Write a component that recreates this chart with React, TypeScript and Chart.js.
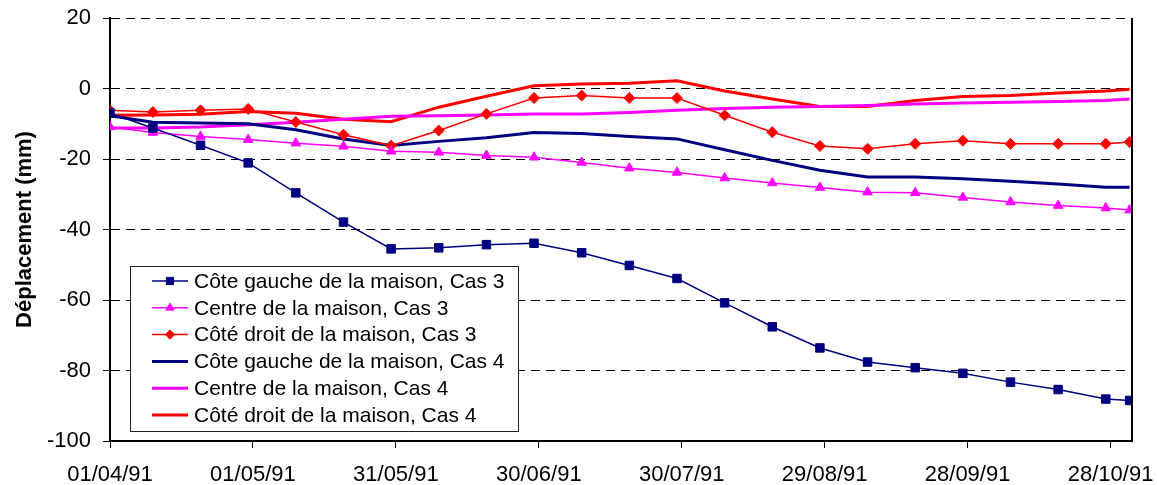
import React, { useEffect, useRef } from "react";
import { Chart, registerables } from "chart.js";

Chart.register(...registerables);

// ---- data ----
const dates = [
  "01/04/91", "10/04/91", "20/04/91", "30/04/91", "10/05/91", "20/05/91",
  "30/05/91", "09/06/91", "19/06/91", "29/06/91", "09/07/91", "19/07/91",
  "29/07/91", "08/08/91", "18/08/91", "28/08/91", "07/09/91", "17/09/91",
  "27/09/91", "07/10/91", "17/10/91", "27/10/91", "01/11/91",
];

const gaucheCas3 = [-7.0, -11.2, -16.1, -21.1, -29.6, -37.9, -45.5, -45.2, -44.3, -43.9, -46.6, -50.2, -53.9, -60.8, -67.6, -73.6, -77.6, -79.2, -80.8, -83.3, -85.4, -88.1, -88.5];
const centreCas3 = [-10.9, -12.5, -13.6, -14.5, -15.5, -16.4, -17.8, -18.1, -19.0, -19.5, -21.0, -22.6, -23.8, -25.4, -26.8, -28.1, -29.4, -29.6, -30.9, -32.2, -33.2, -33.9, -34.5];
const droitCas3 = [-6.2, -6.7, -6.2, -5.8, -9.5, -13.1, -16.2, -11.9, -7.2, -2.7, -2.0, -2.7, -2.7, -7.6, -12.4, -16.3, -17.1, -15.7, -14.8, -15.7, -15.7, -15.7, -15.2];
const gaucheCas4 = [-7.7, -9.6, -9.8, -10.0, -11.7, -14.3, -16.2, -15.0, -14.0, -12.5, -12.8, -13.6, -14.3, -17.4, -20.4, -23.2, -25.1, -25.1, -25.6, -26.3, -27.1, -28.0, -28.0];
const centreCas4 = [-11.2, -11.2, -10.9, -10.3, -9.6, -8.7, -7.9, -7.7, -7.5, -7.2, -7.2, -6.8, -6.2, -5.7, -5.3, -5.1, -4.8, -4.4, -4.1, -3.9, -3.7, -3.4, -3.0];
const droitCas4 = [-7.6, -7.5, -7.3, -6.5, -7.0, -8.7, -9.4, -5.3, -2.2, 0.8, 1.3, 1.5, 2.2, -0.7, -3.0, -5.1, -5.1, -3.4, -2.3, -2.0, -1.3, -0.7, -0.2];

const seriesLabels = [
  "Côte gauche de la maison, Cas 3",
  "Centre de la maison, Cas 3",
  "Côté droit de la maison, Cas 3",
  "Côte gauche de la maison, Cas 4",
  "Centre de la maison, Cas 4",
  "Côté droit de la maison, Cas 4",
];

const tickLabels = ["01/04/91", "01/05/91", "31/05/91", "30/06/91", "30/07/91", "29/08/91", "28/09/91", "28/10/91"];
const yTicks = [-100, -80, -60, -40, -20, 0, 20];
const yTitle = "Déplacement (mm)";

// ---- helpers ----
const toDay = (s: string) => {
  const [d, m, y] = s.split("/").map(Number);
  const t = Date.UTC(1900 + y, m - 1, d);
  const t0 = Date.UTC(1991, 3, 1);
  return Math.round((t - t0) / 86400000);
};
const xDays = dates.map(toDay);
const tickDays = tickLabels.map(toDay);

const FONT = "'Liberation Sans', Arial, sans-serif";
const NAVY = "#000080";
const MAGENTA = "#FF00FF";
const RED = "#FF0000";

const pts = (vals: number[]) => vals.map((v, i) => ({ x: xDays[i], y: v }));

function drawMarker(ctx: CanvasRenderingContext2D, style: string, x: number, y: number, r: number, color: string) {
  ctx.save();
  ctx.fillStyle = color;
  ctx.strokeStyle = color;
  ctx.lineWidth = 1;
  ctx.beginPath();
  if (style === "rect") {
    const s = Math.SQRT1_2 * r;
    ctx.rect(x - s, y - s, 2 * s, 2 * s);
  } else if (style === "triangle") {
    ctx.moveTo(x, y - r);
    ctx.lineTo(x + r * Math.sin(Math.PI / 3), y + r / 2);
    ctx.lineTo(x - r * Math.sin(Math.PI / 3), y + r / 2);
    ctx.closePath();
  } else if (style === "rectRot") {
    ctx.moveTo(x - r, y);
    ctx.lineTo(x, y - r);
    ctx.lineTo(x + r, y);
    ctx.lineTo(x, y + r);
    ctx.closePath();
  }
  ctx.fill();
  ctx.stroke();
  ctx.restore();
}

const frameLegendPlugin = {
  id: "frameLegend",
  afterDraw(chart: any) {
    const { ctx, chartArea } = chart;
    // right border of plot area
    ctx.save();
    ctx.strokeStyle = "#000";
    ctx.lineWidth = 2;
    ctx.beginPath();
    ctx.moveTo(chartArea.right, chartArea.top);
    ctx.lineTo(chartArea.right, chartArea.bottom);
    ctx.stroke();
    ctx.restore();

    // legend box
    const bx = chartArea.left + 20;
    const bw = 388;
    const bh = 165;
    const by = chartArea.bottom - 10 - bh;
    ctx.save();
    ctx.fillStyle = "#fff";
    ctx.fillRect(bx, by, bw, bh);
    ctx.strokeStyle = "#222";
    ctx.lineWidth = 1;
    ctx.strokeRect(bx + 0.5, by + 0.5, bw, bh);
    const rowH = 26.8;
    chart.data.datasets.forEach((ds: any, i: number) => {
      const cy = by + 15 + i * rowH;
      ctx.save();
      ctx.strokeStyle = ds.borderColor;
      ctx.lineWidth = ds.borderWidth;
      ctx.beginPath();
      ctx.moveTo(bx + 22, cy);
      ctx.lineTo(bx + 58, cy);
      ctx.stroke();
      ctx.restore();
      if (ds.pointRadius > 0) {
        drawMarker(ctx, ds.pointStyle, bx + 40, cy, ds.pointRadius * 0.85, ds.borderColor);
      }
      ctx.fillStyle = "#000";
      ctx.font = `21px ${FONT}`;
      ctx.textBaseline = "middle";
      ctx.textAlign = "left";
      ctx.fillText(ds.label, bx + 64, cy + 1);
    });
    ctx.restore();
  },
};

export default function App() {
  const canvasRef = useRef<HTMLCanvasElement | null>(null);

  useEffect(() => {
    const canvas = canvasRef.current;
    if (!canvas) return;
    const chart = new Chart(canvas, {
      type: "line",
      data: {
        datasets: [
          { label: seriesLabels[0], data: pts(gaucheCas3), borderColor: NAVY, backgroundColor: NAVY, borderWidth: 1.5, pointStyle: "rect", pointRadius: 6, pointBorderWidth: 1 },
          { label: seriesLabels[1], data: pts(centreCas3), borderColor: MAGENTA, backgroundColor: MAGENTA, borderWidth: 1.5, pointStyle: "triangle", pointRadius: 5.5, pointBorderWidth: 1 },
          { label: seriesLabels[2], data: pts(droitCas3), borderColor: RED, backgroundColor: RED, borderWidth: 1.5, pointStyle: "rectRot", pointRadius: 5.5, pointBorderWidth: 1 },
          { label: seriesLabels[3], data: pts(gaucheCas4), borderColor: NAVY, backgroundColor: NAVY, borderWidth: 3, pointRadius: 0 },
          { label: seriesLabels[4], data: pts(centreCas4), borderColor: MAGENTA, backgroundColor: MAGENTA, borderWidth: 3, pointRadius: 0 },
          { label: seriesLabels[5], data: pts(droitCas4), borderColor: RED, backgroundColor: RED, borderWidth: 3, pointRadius: 0 },
        ] as any,
      },
      options: {
        animation: false,
        responsive: false,
        devicePixelRatio: 1,
        events: [],
        layout: { padding: { left: 0, top: 18, right: 25, bottom: 0 } },
        plugins: { legend: { display: false }, tooltip: { enabled: false } },
        elements: { line: { tension: 0 } },
        scales: {
          x: {
            type: "linear",
            min: 0,
            max: toDay("01/11/91") + 0.5,
            afterBuildTicks: (s: any) => {
              s.ticks = tickDays.map((v) => ({ value: v }));
            },
            afterFit: (s: any) => {
              s.height = 44;
              s.paddingLeft = 0;
              s.paddingRight = 0;
              s.paddingTop = 0;
              s.paddingBottom = 0;
            },
            ticks: {
              autoSkip: false,
              maxRotation: 0,
              minRotation: 0,
              padding: 14,
              color: "#000",
              font: { family: FONT, size: 22 },
              callback: (v: any) => {
                const i = tickDays.indexOf(Number(v));
                return i >= 0 ? tickLabels[i] : "";
              },
            },
            grid: { drawOnChartArea: false, drawTicks: true, tickLength: 7, tickColor: "#000", tickWidth: 1, color: "#000" },
            border: { display: true, color: "#000", width: 2 },
          },
          y: {
            type: "linear",
            min: yTicks[0],
            max: yTicks[yTicks.length - 1],
            afterBuildTicks: (s: any) => {
              s.ticks = yTicks.map((v) => ({ value: v }));
            },
            afterFit: (s: any) => {
              s.width = 110;
              s.paddingLeft = 0;
              s.paddingRight = 0;
              s.paddingTop = 0;
              s.paddingBottom = 0;
            },
            ticks: {
              padding: 12,
              color: "#000",
              font: { family: FONT, size: 22 },
            },
            grid: { color: "#000", lineWidth: 1, drawTicks: true, tickLength: 7, tickColor: "#000", tickWidth: 1, tickBorderDash: [] },
            border: { display: true, color: "#000", width: 2, dash: [9, 6] },
            title: {
              display: true,
              text: yTitle,
              color: "#000",
              font: { family: FONT, size: 22, weight: "bold" },
              padding: { top: 12, bottom: 0 },
            },
          },
        },
      } as any,
      plugins: [frameLegendPlugin],
    });
    return () => chart.destroy();
  }, []);

  return (
    <div style={{ position: "absolute", left: 0, top: 0, width: 1157, height: 485, background: "#fff" }}>
      <canvas ref={canvasRef} width={1157} height={485} style={{ width: 1157, height: 485, display: "block" }} />
    </div>
  );
}
